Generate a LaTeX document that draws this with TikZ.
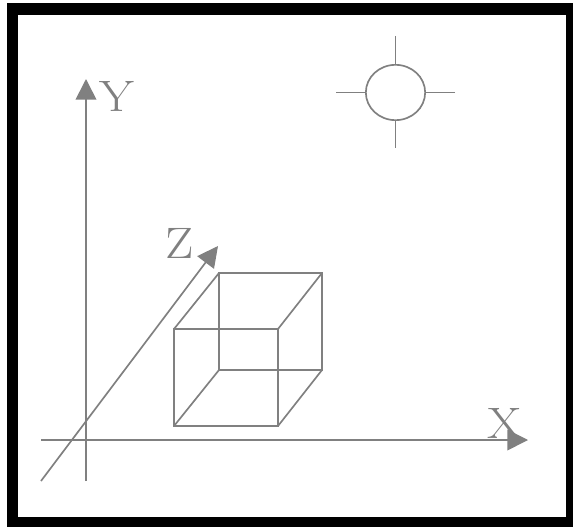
\documentclass[tikz,border=0pt]{standalone}
\usetikzlibrary{arrows.meta,shapes.geometric}
\definecolor{ink}{HTML}{808080}
\tikzset{
  line/.style={draw=ink,line width=1.25pt},
  axis/.style={line,-{Triangle[length=15.5pt,width=15.5pt,color=ink]}},
  lab/.style={text=ink,inner sep=0pt,font=\fontsize{33}{33}\selectfont,xscale=1.14,transform shape},
  sun/.style={line,ellipse,minimum width=44.5pt,minimum height=41.5pt,inner sep=0pt,fill=white},
}
\begin{document}
\begin{tikzpicture}[x=0.75pt,y=-0.75pt]
\useasboundingbox (0,0) rectangle (573,527);
\fill[black] (6.5,3.5) rectangle (573,527);
\fill[white] (18,15.3) rectangle (566,517);
% axes
\coordinate (yo) at (86,481);  \coordinate (yt) at (86,79);
\coordinate (xo) at (41,440);  \coordinate (xt) at (528,440);
\coordinate (zo) at (41,481);  \coordinate (zt) at (218,246);
\draw[axis] (yo) -- (yt);
\draw[axis] (xo) -- (xt);
\draw[axis] (zo) -- (zt);
\node[lab] (ly) at (117,96) {Y};
\node[lab] (lz) at (179.5,243) {Z};
\node[lab] (lx) at (505,423) {X};
% cube
\coordinate (a) at (174,426); \coordinate (b) at (278,426);
\coordinate (c) at (278,329); \coordinate (d) at (174,329);
\coordinate (e) at (219,370); \coordinate (f) at (322,370);
\coordinate (g) at (322,273); \coordinate (h) at (219,273);
\draw[line] (a) -- (b) -- (c) -- (d) -- cycle;
\draw[line] (e) -- (f) -- (g) -- (h) -- cycle;
\draw[line] (a) -- (e) (b) -- (f) (c) -- (g) (d) -- (h);
% sun
\node[sun] (s) at (395.5,92.5) {};
\coordinate (sn) at (395.5,36);  \coordinate (ss) at (395.5,148);
\coordinate (sw) at (336,92.5);  \coordinate (se) at (455,92.5);
\draw[line] (sn) -- (s.north) (ss) -- (s.south) (sw) -- (s.west) (se) -- (s.east);
\end{tikzpicture}
\end{document}
